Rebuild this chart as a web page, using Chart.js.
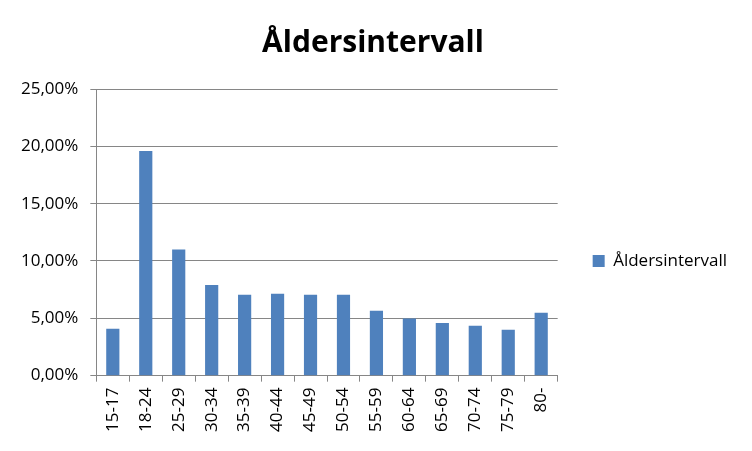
<!DOCTYPE html>
<html lang="sv">
<head>
    <meta charset="UTF-8">
    <title>Åldersintervall</title>
    <style>
        body { margin: 0; background: #fff; }
        .chart-box { width: 752px; height: 451px; }
    </style>
</head>
<body>
    <div class="chart-box">
        <canvas id="ageChart" width="752" height="451"></canvas>
    </div>
    <script src="https://cdn.jsdelivr.net/npm/chart.js"></script>
    <script>
        // Age groups and their share (fraction of total)
        const ageGroups = ['15-17', '18-24', '25-29', '30-34', '35-39', '40-44', '45-49',
                           '50-54', '55-59', '60-64', '65-69', '70-74', '75-79', '80-'];
        const shares = [0.041, 0.196, 0.110, 0.079, 0.0706, 0.0714, 0.0706,
                        0.0706, 0.0566, 0.0499, 0.046, 0.0436, 0.040, 0.0549];
        const seriesName = 'Åldersintervall';

        const fontFamily = "'Open Sans', 'DejaVu Sans', sans-serif";
        const axisGray = '#868686';

        // Format like "25,00%"
        function pct(value) {
            return (value * 100).toFixed(2).replace('.', ',') + '%';
        }

        const ctx = document.getElementById('ageChart').getContext('2d');
        new Chart(ctx, {
            type: 'bar',
            data: {
                labels: ageGroups,
                datasets: [{
                    label: seriesName,
                    data: shares,
                    backgroundColor: '#4F81BD',
                    categoryPercentage: 1.0,
                    barPercentage: 0.4
                }]
            },
            options: {
                responsive: false,
                animation: false,
                layout: { padding: { left: 9, right: 15, top: 10, bottom: 13 } },
                plugins: {
                    title: {
                        display: true,
                        text: seriesName,
                        color: '#000',
                        font: { family: fontFamily, size: 30, weight: 'bold' },
                        padding: { top: 15, bottom: 28 }
                    },
                    legend: {
                        position: 'right',
                        // blank legend title only pushes the entry down a bit
                        title: {
                            display: true,
                            text: ' ',
                            font: { size: 10 },
                            padding: { top: 0, bottom: 62 }
                        },
                        labels: {
                            color: '#000',
                            font: { family: fontFamily, size: 17 },
                            boxWidth: 12,
                            boxHeight: 12,
                            padding: 35
                        }
                    },
                    tooltip: { enabled: false }
                },
                scales: {
                    x: {
                        grid: {
                            drawOnChartArea: false,
                            drawTicks: true,
                            tickLength: 6,
                            color: axisGray
                        },
                        border: { color: axisGray },
                        ticks: {
                            color: '#000',
                            font: { family: fontFamily, size: 17 },
                            minRotation: 90,
                            maxRotation: 90,
                            padding: 6
                        }
                    },
                    y: {
                        min: 0,
                        max: 0.25,
                        grid: {
                            color: axisGray,
                            tickLength: 6
                        },
                        border: { color: axisGray },
                        ticks: {
                            stepSize: 0.05,
                            color: '#000',
                            font: { family: fontFamily, size: 17 },
                            padding: 12,
                            callback: value => pct(value)
                        }
                    }
                }
            }
        });
    </script>
</body>
</html>
